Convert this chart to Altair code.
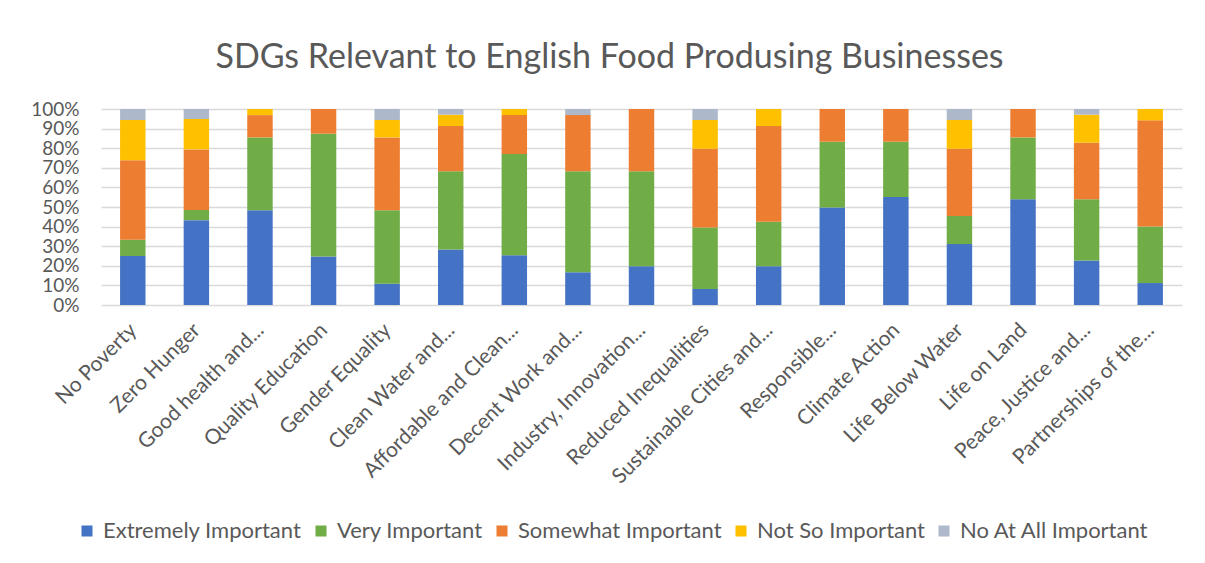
import altair as alt
import pandas as pd

categories = [
    "No Poverty", "Zero Hunger", "Good health and...", "Quality Education",
    "Gender Equality", "Clean Water and...", "Affordable and Clean...",
    "Decent Work and...", "Industry, Innovation...", "Reduced Inequalities",
    "Sustainable Cities and...", "Responsible...", "Climate Action",
    "Life Below Water", "Life on Land", "Peace, Justice and...",
    "Partnerships of the...",
]
series = ["Extremely Important", "Very Important", "Somewhat Important",
          "Not So Important", "No At All Important"]
colors = ["#4472C4", "#70AD47", "#ED7D31", "#FFC000", "#ADB9CA"]

extremely = [25.0, 43.3, 48.3, 24.7, 10.9, 28.3, 25.4, 16.7, 19.8, 8.2, 19.8, 49.7, 55.1, 31.1, 53.9, 22.7, 11.2]
very      = [8.3, 5.2, 37.2, 62.7, 37.4, 40.0, 51.7, 51.6, 48.5, 31.4, 22.7, 33.6, 28.2, 14.3, 31.6, 31.2, 28.8]
somewhat  = [40.6, 30.9, 11.4, 12.6, 37.2, 23.0, 19.8, 28.6, 31.7, 40.1, 48.8, 16.7, 16.7, 34.3, 14.5, 28.9, 54.2]
not_so    = [20.5, 15.5, 3.1, 0.0, 8.9, 5.8, 3.1, 0.0, 0.0, 14.7, 8.7, 0.0, 0.0, 14.7, 0.0, 14.3, 5.8]
not_at    = [5.6, 5.1, 0.0, 0.0, 5.6, 2.9, 0.0, 3.1, 0.0, 5.6, 0.0, 0.0, 0.0, 5.6, 0.0, 2.9, 0.0]

all_series = [extremely, very, somewhat, not_so, not_at]
rows = []
for si, (name, vals) in enumerate(zip(series, all_series)):
    for ci, cat in enumerate(categories):
        if vals[ci] > 0:
            rows.append({"SDG": cat, "Level": name, "order": si, "value": vals[ci] / 100.0})
df = pd.DataFrame(rows)

FONT = "Lato"
GREY = "#595959"
W, H = 1081, 196

chart = alt.Chart(df).mark_bar().encode(
    x=alt.X("SDG:N", sort=categories, title=None,
            scale=alt.Scale(paddingInner=0.6, paddingOuter=0.3),
            axis=alt.Axis(labelAngle=-45, labelFontSize=21, labelFont=FONT,
                          labelColor=GREY, domain=False, ticks=False,
                          labelPadding=14, labelOffset=-7, labelLimit=400,
                          labelAlign="right", labelBaseline="top")),
    y=alt.Y("value:Q", stack="zero", title=None,
            scale=alt.Scale(domain=[0, 1], nice=False),
            axis=alt.Axis(values=[i / 10 for i in range(11)], format=".0%",
                          labelFontSize=19, labelFont=FONT, labelColor=GREY,
                          labelOverlap=False, domain=False, ticks=False,
                          labelPadding=22, gridColor="#D9D9D9", gridWidth=1.5)),
    color=alt.Color("Level:N", sort=series,
                    scale=alt.Scale(domain=series, range=colors),
                    legend=alt.Legend(title=None, orient="none", direction="horizontal",
                                      legendX=-25, legendY=411, padding=0,
                                      symbolType="square",
                                      symbolSize=121, symbolStrokeWidth=0,
                                      labelFontSize=22, labelFont=FONT, labelColor=GREY,
                                      labelOffset=5, columnPadding=8, labelLimit=400)),
    order=alt.Order("order:Q", sort="ascending"),
).properties(
    width=W, height=H,
    title=alt.TitleParams("SDGs Relevant to English Food Produsing Businesses",
                          fontSize=34, font=FONT, fontWeight="normal", color=GREY,
                          anchor="middle", baseline="alphabetic", offset=36,
                          dx=-32, dy=38),
    autosize=alt.AutoSizeParams(type="none"),
    padding={"left": 93, "top": 101, "right": 15, "bottom": 250},
).configure_view(stroke=None)

chart.save("out.html", embed_options={"renderer": "svg", "actions": False})
